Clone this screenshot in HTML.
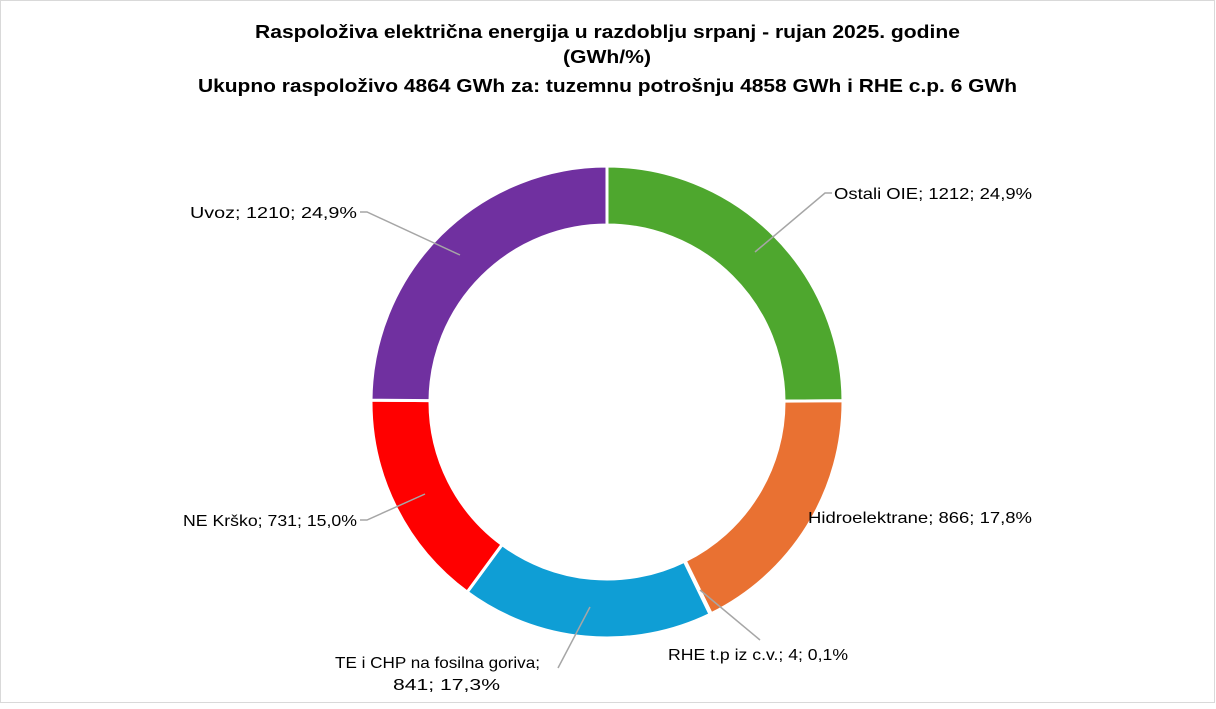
<!DOCTYPE html>
<html><head><meta charset="utf-8"><style>
body{margin:0;background:#fff;}
svg text{font-family:"Liberation Sans",sans-serif;}
</style></head><body>
<svg width="1216" height="704" xmlns="http://www.w3.org/2000/svg">
<rect x="0.5" y="0.5" width="1214" height="702" fill="#fff" stroke="#d9d9d9"/>
<g font-weight="bold" font-size="18" fill="#000" lengthAdjust="spacingAndGlyphs">
<text x="255" y="38" textLength="705" lengthAdjust="spacingAndGlyphs">Raspoloživa električna energija u razdoblju srpanj - rujan 2025. godine</text>
<text x="563" y="63" textLength="88" lengthAdjust="spacingAndGlyphs">(GWh/%)</text>
<text x="198" y="92" textLength="819" lengthAdjust="spacingAndGlyphs">Ukupno raspoloživo 4864 GWh za: tuzemnu potrošnju 4858 GWh i RHE c.p. 6 GWh</text>
</g>
<g id="d" stroke="#fff" stroke-width="3"></g>
<g stroke="#a6a6a6" stroke-width="1.5" fill="none">
<polyline points="755,252 825,193 832,193"/>
<polyline points="460,255 367,212 360,212"/>
<polyline points="425,494 367,520 360,520"/>
<polyline points="590,607 558,668"/>
<polyline points="700,590 760,640"/>
</g>
<g font-size="16" fill="#000">
<text x="834" y="199" textLength="198" lengthAdjust="spacingAndGlyphs">Ostali OIE; 1212; 24,9%</text>
<text x="190" y="218" textLength="167" lengthAdjust="spacingAndGlyphs">Uvoz; 1210; 24,9%</text>
<text x="183" y="526" textLength="174" lengthAdjust="spacingAndGlyphs">NE Krško; 731; 15,0%</text>
<text x="808" y="523" textLength="224" lengthAdjust="spacingAndGlyphs">Hidroelektrane; 866; 17,8%</text>
<text x="668" y="660" textLength="180" lengthAdjust="spacingAndGlyphs">RHE t.p iz c.v.; 4; 0,1%</text>
<text x="335" y="668" textLength="205" lengthAdjust="spacingAndGlyphs">TE i CHP na fosilna goriva;</text>
<text x="393" y="690" textLength="107" lengthAdjust="spacingAndGlyphs">841; 17,3%</text>
</g>
</svg>
<script>
var v=[[1212,"#4EA72E"],[866,"#E97132"],[4,"#ffffff"],[841,"#0F9ED5"],[731,"#FF0000"],[1210,"#7030A0"]];
var cx=607,cy=402,R=236,r=177,t=4864,a=0,g=document.getElementById("d"),s="";
function p(rad,ang){return [cx+rad*Math.sin(ang),cy-rad*Math.cos(ang)];}
v.forEach(function(e){var a0=a/t*2*Math.PI;a+=e[0];var a1=a/t*2*Math.PI;var l=(a1-a0)>Math.PI?1:0;
var A=p(R,a0),B=p(R,a1),C=p(r,a1),D=p(r,a0);
s+='<path fill="'+e[1]+'" d="M'+A+' A'+R+','+R+' 0 '+l+' 1 '+B+' L'+C+' A'+r+','+r+' 0 '+l+' 0 '+D+' Z"/>';});
g.innerHTML=s;
</script>
</body></html>
